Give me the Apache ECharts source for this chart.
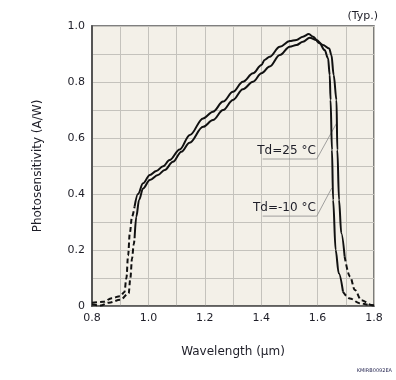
<!DOCTYPE html>
<html>
<head>
<meta charset="utf-8">
<script src="https://cdn.jsdelivr.net/npm/echarts@6/dist/echarts.min.js"></script>
<style>html,body{margin:0;padding:0;background:#fff;}#c{width:396px;height:380px;}</style>
</head>
<body>
<div id="c"></div>
<script>
// Tick labels
var xTickLabels = ['0.8','1.0','1.2','1.4','1.6','1.8'];
var yTickLabels = ['0','0.2','0.4','0.6','0.8','1.0'];

// Td=-10 °C
var m10DashLeft = [[0.80,0.012],[0.84,0.015],[0.87,0.028],[0.90,0.035],[0.915,0.05],[0.922,0.1],[0.928,0.18],[0.934,0.26],[0.942,0.32],[0.951,0.355]];
var m10Solid = [[0.951,0.355],[0.963,0.40],[0.981,0.438],[1.005,0.468],[1.028,0.482],[1.052,0.499],[1.075,0.521],[1.111,0.559],[1.147,0.611],[1.194,0.67],[1.229,0.694],[1.265,0.73],[1.30,0.765],[1.335,0.801],[1.371,0.831],[1.401,0.861],[1.412,0.879],[1.43,0.89],[1.466,0.926],[1.501,0.946],[1.525,0.95],[1.548,0.962],[1.569,0.971],[1.584,0.962],[1.607,0.938],[1.625,0.914],[1.637,0.885],[1.643,0.825],[1.646,0.736],[1.651,0.557],[1.655,0.379],[1.664,0.2],[1.675,0.117],[1.69,0.051]];
var m10DashRight = [[1.69,0.051],[1.714,0.027],[1.749,0.01],[1.784,0.004],[1.80,0.002]];

// Td=25 °C
var p25DashLeft = [[0.80,0.005],[0.83,0.002],[0.86,0.012],[0.90,0.022],[0.93,0.045],[0.936,0.1],[0.942,0.17],[0.948,0.22],[0.951,0.242]];
var p25Solid = [[0.951,0.242],[0.957,0.319],[0.967,0.379],[0.981,0.42],[1.005,0.45],[1.034,0.468],[1.058,0.486],[1.087,0.515],[1.117,0.551],[1.146,0.583],[1.194,0.64],[1.229,0.664],[1.265,0.70],[1.30,0.736],[1.335,0.774],[1.371,0.801],[1.401,0.831],[1.43,0.855],[1.466,0.896],[1.501,0.926],[1.525,0.932],[1.548,0.944],[1.572,0.958],[1.596,0.95],[1.619,0.932],[1.641,0.92],[1.649,0.896],[1.657,0.825],[1.667,0.736],[1.67,0.557],[1.676,0.379],[1.684,0.26],[1.696,0.176]];
var p25DashRight = [[1.696,0.176],[1.715,0.105],[1.732,0.057],[1.755,0.021],[1.791,0.004],[1.80,0.002]];

// annotation leaders (data coords): underline start, underline end, pointer tip
var lead25 = [[1.405,0.525],[1.597,0.525],[1.668,0.654]];
var leadM10 = [[1.405,0.321],[1.597,0.321],[1.65,0.421]];
var label25 = 'Td=25 °C';
var labelM10 = 'Td=-10 °C';

var FONT = 'DejaVu Sans';
var TXT = '#1e1e28';

function curve(data, dashed) {
  return {
    type: 'line', data: data, showSymbol: false, symbol: 'none',
    smooth: 0.35, smoothMonotone: 'x', silent: true, z: 3,
    lineStyle: { color: '#111', width: 2, type: dashed ? [5, 3] : 'solid' }
  };
}
function leader(data) {
  return {
    type: 'line', data: data, showSymbol: false, symbol: 'none', silent: true, z: 2,
    lineStyle: { color: '#8a8a8a', width: 0.8 }
  };
}

var chart = echarts.init(document.getElementById('c'), null, { renderer: 'canvas' });
chart.setOption({
  animation: false,
  backgroundColor: '#ffffff',
  grid: { left: 92, right: 22, top: 26, bottom: 74, show: true, backgroundColor: '#f3f0e8', borderColor: '#555', borderWidth: 1.5 },
  xAxis: {
    type: 'value', min: 0.8, max: 1.8, interval: 0.1,
    name: 'Wavelength (μm)', nameLocation: 'middle', nameGap: 40,
    nameTextStyle: { fontFamily: FONT, fontSize: 12, color: TXT },
    axisLine: { show: true, lineStyle: { color: '#555', width: 1.5 } },
    axisTick: { show: false },
    axisLabel: {
      fontFamily: FONT, fontSize: 11, color: TXT, margin: 7, showMinLabel: true, showMaxLabel: true,
      formatter: function (v) { var s = v.toFixed(1); return xTickLabels.indexOf(s) >= 0 ? s : ''; }
    },
    splitLine: { show: true, lineStyle: { color: '#c4c2bc', width: 1 } }
  },
  yAxis: {
    type: 'value', min: 0, max: 1.0, interval: 0.1,
    name: 'Photosensitivity (A/W)', nameLocation: 'middle', nameGap: 48, nameRotate: 90,
    nameTextStyle: { fontFamily: FONT, fontSize: 12, color: TXT },
    axisLine: { show: true, lineStyle: { color: '#555', width: 2 } },
    axisTick: { show: false },
    axisLabel: {
      fontFamily: FONT, fontSize: 11, color: TXT, margin: 7,
      formatter: function (v) { var s = (Math.abs(v) < 1e-9) ? '0' : v.toFixed(1); return yTickLabels.indexOf(s) >= 0 ? s : ''; }
    },
    splitLine: { show: true, lineStyle: { color: '#c4c2bc', width: 1 } }
  },
  series: [
    curve(m10DashLeft, true), curve(m10Solid, false), curve(m10DashRight, true),
    curve(p25DashLeft, true), curve(p25Solid, false), curve(p25DashRight, true),
    leader(lead25), leader(leadM10)
  ]
});

var a = chart.convertToPixel({ gridIndex: 0 }, lead25[1]);
var b = chart.convertToPixel({ gridIndex: 0 }, leadM10[1]);
chart.setOption({
  graphic: [
    { type: 'text', right: 18, top: 11, style: { text: '(Typ.)', font: '11px "DejaVu Sans"', fill: TXT } },
    { type: 'text', x: a[0] - 1, y: a[1] - 2, style: { text: label25, font: '12px "DejaVu Sans"', fill: TXT, textAlign: 'right', textVerticalAlign: 'bottom' } },
    { type: 'text', x: b[0] - 1, y: b[1] - 2, style: { text: labelM10, font: '12px "DejaVu Sans"', fill: TXT, textAlign: 'right', textVerticalAlign: 'bottom' } },
    { type: 'text', right: 4, top: 368, style: { text: 'KMIRB0092EA', font: '5px "DejaVu Sans"', fill: '#2a2a55' } }
  ]
});
</script>
</body>
</html>
